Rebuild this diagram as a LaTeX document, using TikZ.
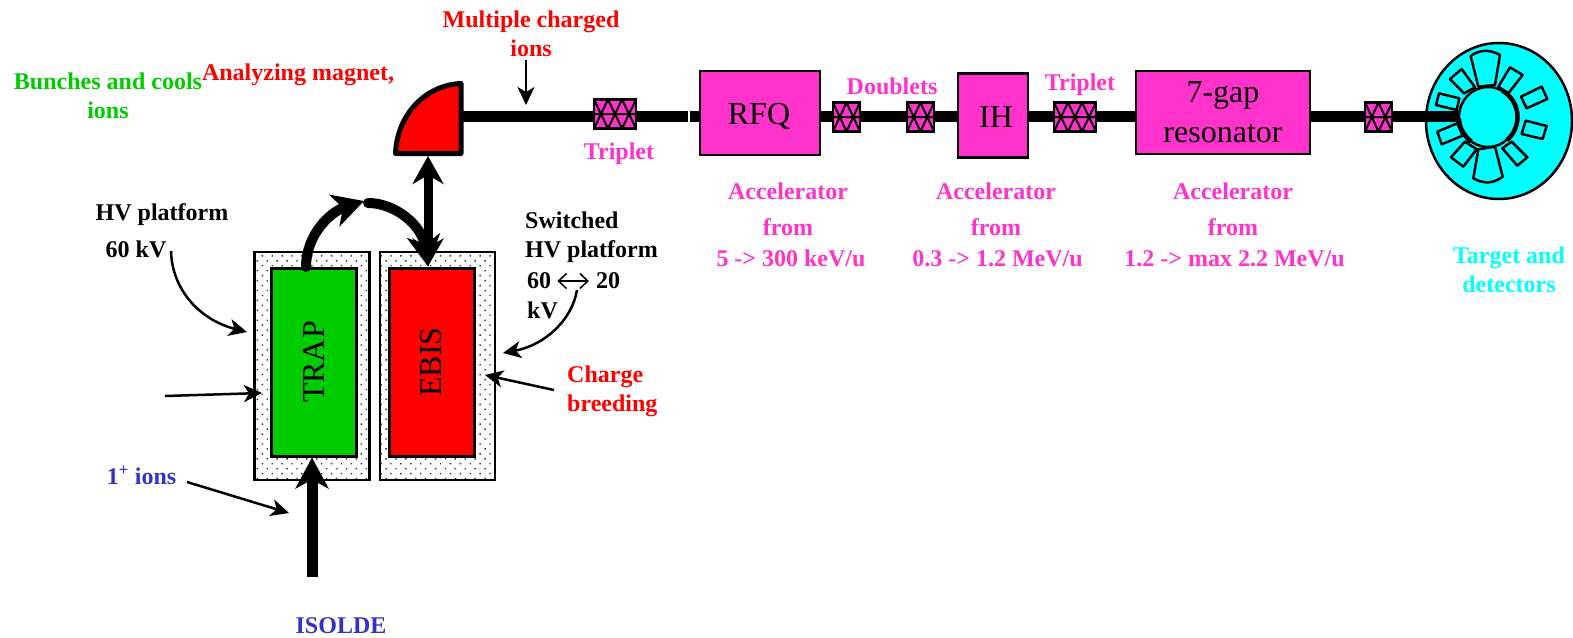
\documentclass[tikz,border=0pt]{standalone}
\usepackage{fontspec}
\setmainfont{Liberation Serif}
\usepackage{xcolor}
\usepackage{tikz}
\usetikzlibrary{arrows.meta,calc,patterns.meta,shapes.geometric}
\definecolor{linacpink}{HTML}{FF33CC}
\definecolor{trapgreen}{HTML}{00CC00}
\definecolor{ebisred}{HTML}{FF0000}
\definecolor{targetcyan}{HTML}{00FFFF}
\definecolor{isoldeblue}{HTML}{3333CC}

\begin{document}
\begin{tikzpicture}[
  x=1pt,y=-1pt,
  lbl/.style={font=\fontsize{24}{29}\selectfont\bfseries,align=center,inner sep=0pt},
  lblleft/.style={lbl,align=left},
  accel/.style={lbl,linacpink,font=\fontsize{24}{33.5}\selectfont\bfseries},
  cavity/.style={draw,line width=2.5pt,fill=linacpink,inner sep=0pt,align=center,
                 font=\fontsize{32}{40}\selectfont},
  cavitytext/.style={inner sep=0pt,font=\fontsize{32}{40}\selectfont},
  platform/.style={draw,line width=2.5pt,minimum width=115pt,minimum height=228pt,
                   pattern={Dots[radius=1pt,distance=7pt,angle=45]},pattern color=black!80},
  core/.style={draw,line width=3pt,minimum width=85pt,minimum height=188pt,inner sep=0pt,
               font=\fontsize{32}{38}\selectfont},
  quadbox/.style={draw,line width=2.5pt,fill=linacpink,minimum height=29pt,inner sep=0pt},
  doublet/.style={quadbox,minimum width=27pt,path picture={
      \draw[line width=2pt]
        (path picture bounding box.north west) -- (path picture bounding box.south)
        -- (path picture bounding box.north east)
        (path picture bounding box.south west) -- (path picture bounding box.north)
        -- (path picture bounding box.south east)
        (path picture bounding box.west) -- (path picture bounding box.east);}},
  triplet/.style={quadbox,minimum width=42pt,path picture={
      \coordinate (nw) at (path picture bounding box.north west);
      \coordinate (ne) at (path picture bounding box.north east);
      \coordinate (sw) at (path picture bounding box.south west);
      \coordinate (se) at (path picture bounding box.south east);
      \draw[line width=2pt]
        (sw) -- ($(nw)!.333!(ne)$) -- ($(sw)!.667!(se)$) -- (ne)
        (nw) -- ($(sw)!.333!(se)$) -- ($(nw)!.667!(ne)$) -- (se)
        (path picture bounding box.west) -- (path picture bounding box.east);}},
  beam/.style={line width=11pt},
  thinarr/.style={-{Stealth[length=18pt,width=17pt,inset=5pt]},line width=2.5pt},
  fatarr/.style={-{Stealth[length=31pt,width=33pt,inset=9pt]},line width=11pt},
  bendarr/.style={-{Stealth[length=31pt,width=33pt,inset=9pt]},line width=10pt,line cap=round},
  detector/.style={draw,line width=2.5pt,line join=round}
]
\useasboundingbox (0,0) rectangle (1573,637);

% Platforms and ion sources
\node[platform] (trapbox) at (312,366) {};
\node[platform] (ebisbox) at (437.5,366) {};
\node[core,fill=trapgreen] (trap) at (313.5,362) {\rotatebox{90}{TRAP}};
\node[core,fill=ebisred] (ebis) at (431.5,362) {\rotatebox{90}{EBIS}};

% Analyzing magnet
\draw[line width=5pt,line join=round,fill=ebisred] (461,83.5) .. controls (425,85) and (397,115) .. (395.5,153.5)
  -- (461,153.5) -- cycle;
\coordinate (magnetout) at (463,116);
\coordinate (magnetin) at (428,156);
\coordinate (beamgap) at (688,116);
\coordinate (beamgapend) at (690,116);

% Target
\node[draw,ellipse,line width=2.5pt,fill=targetcyan,minimum width=146pt,minimum height=156pt,inner sep=0pt]
  (target) at (1499,121) {};
\node[draw,ellipse,line width=2.5pt,fill=targetcyan,minimum width=58pt,minimum height=60pt,inner sep=0pt]
  (targetcore) at (1488,117) {};
\draw[line width=4.5pt] (targetcore.center) ++(15,-26) arc[start angle=-60,end angle=50,x radius=29,y radius=30];
\draw[line width=4.5pt] (targetcore.center) ++(-29,2) arc[start angle=176,end angle=125,x radius=29,y radius=30];

% Detector segments
\begin{scope}[shift={(1340,30)},x=0.3333pt,y=-0.3333pt]
  \draw[detector] (392,78) .. controls (420,58) and (450,58) .. (480,75) -- (465,165) -- (415,170) -- cycle;
  \draw[detector] (415,358) -- (465,350) -- (488,440) .. controls (460,462) and (430,462) .. (400,445) -- cycle;
  \draw[detector] (510,112) -- (548,135) -- (505,190) -- (475,170) -- cycle;
  \draw[detector] (605,170) -- (622,207) -- (560,235) -- (543,200) -- cycle;
  \draw[detector] (557,272) -- (620,288) -- (608,327) -- (545,312) -- cycle;
  \draw[detector] (515,335) -- (562,382) -- (532,407) -- (487,355) -- cycle;
  \draw[detector] (410,358) -- (370,410) -- (333,382) -- (375,335) -- cycle;
  \draw[detector] (352,280) -- (368,317) -- (305,343) -- (292,305) -- cycle;
  \draw[detector] (297,190) -- (358,205) -- (350,240) -- (288,225) -- cycle;
  \draw[detector] (365,117) -- (405,172) -- (372,190) -- (330,147) -- cycle;
\end{scope}

% Linac
\node[cavity,minimum width=120pt,minimum height=84pt] (rfq) at (760,113) {};
\node[cavity,minimum width=70pt,minimum height=84pt] (ih) at (993,115.5) {};
\node[cavity,minimum width=174pt,minimum height=83pt] (resonator) at (1223,112.5) {7-gap\\resonator};
\node[cavitytext] (rfqlbl) at (759,116) {RFQ};
\node[cavitytext] (ihlbl) at (996,117) {IH};

% Beam line
\draw[beam] (magnetout) -- (beamgap);
\draw[beam] (beamgapend) -- (rfq.west |- beamgapend);
\draw[beam] (rfq.east |- beamgapend) -- (ih.west |- beamgapend);
\draw[beam] (ih.east |- beamgapend) -- (resonator.west |- beamgapend);
\draw[beam] (resonator.east |- beamgapend) -- (targetcore.west |- beamgapend);

% Quadrupoles
\node[triplet] (tripa) at (615,114) {};
\node[doublet] (dbla) at (846.5,117) {};
\node[doublet] (dblb) at (920.5,117) {};
\node[triplet] (tripb) at (1075,117) {};
\node[doublet] (dblc) at (1378.5,117) {};

% Labels
\node[lbl,ebisred] (multiple) at (531,33.5) {Multiple charged\\ions};
\node[lbl,ebisred] (analyzing) at (298,75) {Analyzing magnet,};
\node[lbl,trapgreen] (bunches) at (108,96) {Bunches and cools\\ions};
\node[lbl,linacpink] (tripalbl) at (619,154) {Triplet};
\node[lbl,linacpink] (dbllbl) at (892,86) {Doublets};
\node[lbl,linacpink] (tripblbl) at (1080,85) {Triplet};
\node[accel] (accrfq) at (788,224.5) {Accelerator\\[3pt]from\\[-3pt]\hspace*{6pt}5 -> 300 keV/u};
\node[accel] (accih) at (996,224.5) {Accelerator\\[3pt]from\\[-3pt]\hspace*{3pt}0.3 -> 1.2 MeV/u};
\node[accel] (accres) at (1233,224.5) {Accelerator\\[3pt]from\\[-3pt]\hspace*{3pt}1.2 -> max 2.2 MeV/u};
\node[lbl,targetcyan] (targetlbl) at (1509,270) {Target and\\detectors};
\node[lbl] (hvone) at (162,215) {HV platform};
\node[lbl] (hvtwo) at (136,249) {60 kV};
\node[lblleft,anchor=west] (switched) at (525,237) {Switched\\HV platform};
\node[lbl,anchor=west] (sixty) at (527,281) {60};
\node[lbl,anchor=west] (twenty) at (596,281) {20};
\node[lbl,anchor=west] (kv) at (527,310) {kV};
\node[lblleft,anchor=west,ebisred] (charge) at (567,391) {Charge\\breeding};
\node[lbl,isoldeblue] (oneplus) at (141.5,475) {1\textsuperscript{+} ions};
\node[lbl,isoldeblue] (isolde) at (341,626) {ISOLDE};

% Ion path
\coordinate (isoldeout) at (312,577);
\coordinate (trapout) at (306,267);
\coordinate (bendmid) at (364,201);
\coordinate (bendstart) at (368,203);
\draw[fatarr] (isoldeout) -- ([xshift=-1.5pt]trap.south);
\draw[bendarr] (trapout) .. controls (306,235) and (330,212) .. (bendmid);
\draw[bendarr] (bendstart) .. controls (395,203) and (422,225) .. (magnetin |- ebis.north);
\draw[{Stealth[length=28pt,width=31pt,inset=9pt]}-{Stealth[length=28pt,width=31pt,inset=9pt]},line width=9pt]
  (magnetin) -- (magnetin |- ebis.north);

% Pointers
\coordinate (hvstart) at (171,251);
\coordinate (hvtip) at (247,332);
\coordinate (swstart) at (577,290);
\coordinate (swtip) at (503,353);
\coordinate (leftstart) at (165,396);
\coordinate (lefttip) at (262,393);
\coordinate (chargestart) at (554,390);
\coordinate (chargetip) at (485,375);
\coordinate (oneplusstart) at (187,482);
\coordinate (oneplustip) at (289,513);
\coordinate (multipletip) at (526,105);
\coordinate (multiplestart) at (526,60);
\draw[thinarr] (hvstart) .. controls (172,290) and (200,320) .. (hvtip);
\draw[thinarr] (swstart) .. controls (572,320) and (545,345) .. (swtip);
\draw[thinarr] (leftstart) -- (lefttip);
\draw[thinarr] (chargestart) -- (chargetip);
\draw[thinarr] (oneplusstart) -- (oneplustip);
\draw[thinarr] (multiplestart) -- (multipletip);
\draw[{Straight Barb[length=8pt,width=15pt]}-{Straight Barb[length=8pt,width=15pt]},line width=1.5pt]
  ([xshift=6pt]sixty.east) -- ([xshift=-7pt]twenty.west);

\end{tikzpicture}
\end{document}
